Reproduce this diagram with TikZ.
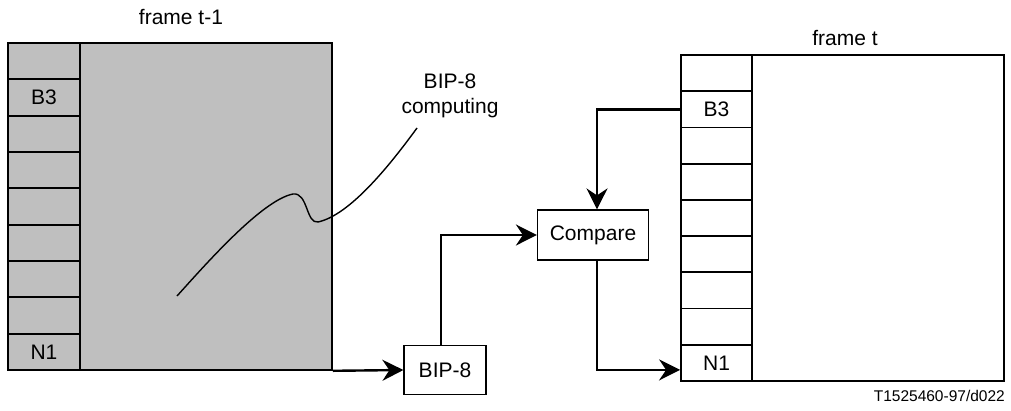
\documentclass[tikz,border=0pt]{standalone}
\usepackage{fontspec}
\setmainfont{Liberation Sans}
\usetikzlibrary{arrows.meta}
\begin{document}
\begin{tikzpicture}[x=1pt,y=-1pt,
  lbl/.style={font=\fontsize{21}{25}\selectfont, inner sep=0pt},
  lcell/.style={draw, fill=black!25, line width=1.8pt, minimum width=72pt, minimum height=36.33pt, inner sep=0pt, font=\fontsize{21}{25}\selectfont},
  rcell/.style={draw, line width=1.8pt, minimum width=71pt, minimum height=36.22pt, inner sep=0pt, font=\fontsize{21}{25}\selectfont},
  procbox/.style={draw, line width=1.2pt, inner sep=0pt, font=\fontsize{21}{25}\selectfont},
  conn/.style={line width=2.4pt, -{Stealth[length=21pt, width=21pt, inset=7pt]}},
  lead/.style={line width=1.4pt}
]
\useasboundingbox (0,0) rectangle (1011,410);
% left frame t-1
\node[draw, fill=black!25, line width=1.6pt, minimum width=252pt, minimum height=327pt, inner sep=0pt] (lbody) at (206,206.5) {};
\foreach \i in {1,...,9} {
  \node[lcell] (L\i) at (44,{43+36.333*(\i-0.5)}) {};
}
\node[lbl] at (L2) {B3};
\node[lbl] at (L9) {N1};
% right frame t
\node[draw, line width=1.3pt, minimum width=252pt, minimum height=326pt, inner sep=0pt] (rbody) at (878,218) {};
\foreach \i in {1,...,9} {
  \node[rcell] (R\i) at (716.5,{55+36.222*(\i-0.5)}) {};
}
\node[lbl] at (R2) {B3};
\node[lbl] at (R9) {N1};
% titles
\node[lbl] (tl) at (181,17) {frame t-1};
\node[lbl] (tr) at (845,38) {frame t};
% boxes
\node[procbox, minimum width=82pt, minimum height=49pt] (bip) at (445,370) {BIP-8};
\node[procbox, minimum width=111pt, minimum height=50pt] (cmp) at (593,235) {Compare};
% computing label
\node[lbl, align=center] (comp) at (450,96) {BIP-8\\computing};
\coordinate (leadend) at (417,128);
\coordinate (leadstart) at (177,296);
\draw[lead] (leadstart) .. controls (205,265) and (262,200) .. (293,194)
  .. controls (308,192) and (306,224) .. (318,222)
  .. controls (350,215) and (390,165) .. (leadend);
% connectors
\draw[conn] (lbody.south east) -- (bip.west);
\draw[conn] ([xshift=-4pt]bip.north) |- (cmp.west);
\draw[conn] (R2.west) -| ([xshift=4pt]cmp.north);
\draw[conn] ([xshift=4pt]cmp.south) |- ([yshift=-7pt]R9.west);
% code
\node[font=\fontsize{15.5}{18}\selectfont, anchor=south east, inner sep=0pt] (code) at (1005,402) {T1525460-97/d022};
\end{tikzpicture}
\end{document}
